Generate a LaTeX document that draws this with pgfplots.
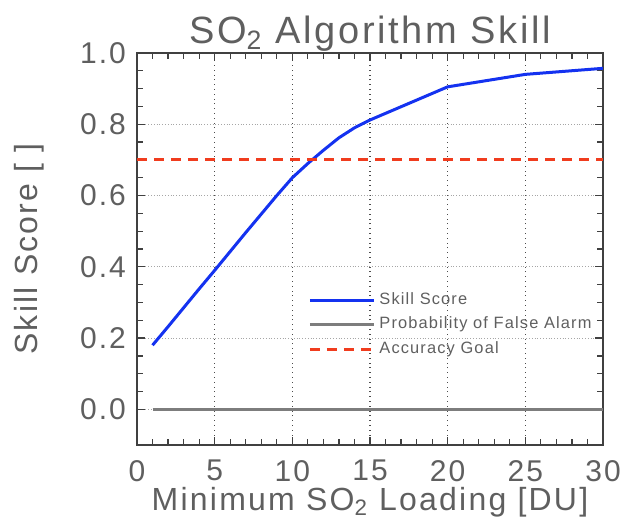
\documentclass[border=0pt]{standalone}
\usepackage{fontspec}
\setmainfont{Liberation Sans}[LetterSpace=7]
\usepackage{pgfplots}
\pgfplotsset{compat=1.18}
\definecolor{skillblue}{RGB}{20,50,240}
\definecolor{goalred}{RGB}{240,60,30}
\definecolor{pfagray}{RGB}{125,125,125}
\definecolor{txtgray}{RGB}{95,95,95}
\begin{document}
\begin{tikzpicture}
\path[use as bounding box] (-68.5pt,-39pt) rectangle (245pt,222.5pt);
\begin{axis}[
  at={(0,0)}, anchor=south west,
  scale only axis, width=233pt, height=196pt,
  xmin=0, xmax=30, ymin=-0.1, ymax=1.0,
  xtick={0,5,10,15,20,25,30},
  ytick={0,0.2,0.4,0.6,0.8,1.0},
  minor x tick num=4, minor y tick num=3,
  tick align=inside,
  major tick length=4pt, minor tick length=3pt,
  every tick/.style={black!75, line width=0.6pt},
  axis line style={black!75, line width=0.6pt},
  xmajorgrids, ymajorgrids,
  x grid style={dotted, black!70, line width=0.6pt},
  y grid style={densely dotted, black!35, line width=0.4pt},
  yticklabel style={/pgf/number format/fixed, /pgf/number format/fixed zerofill, /pgf/number format/precision=1},
  /pgf/number format/assume math mode=true,
  ticklabel style={font=\fontsize{15}{15}\selectfont, text=txtgray},
  xticklabel style={yshift=-4pt},
  yticklabel style={xshift=-2pt},
  title={SO\textsubscript{2} Algorithm Skill},
  title style={font=\fontsize{19}{19}\selectfont, text=txtgray, yshift=-8.5pt},
  xlabel={Minimum SO\textsubscript{2} Loading [DU]},
  ylabel={Skill Score [ ]},
  label style={font=\fontsize{16}{16}\selectfont, text=txtgray},
  xlabel style={yshift=4pt},
  ylabel style={yshift=11pt},
  legend image code/.code={\draw[#1] (0pt,0pt) -- (32pt,0pt);},
  legend style={at={(0.367,0.40)}, anchor=north west, draw=none, fill=none,
    font=\fontsize{8.2}{8.2}\selectfont, text=txtgray, inner sep=0pt,
    row sep=0.8pt, cells={anchor=west}},
  legend cell align=left,
]
\addplot[skillblue, line width=1.5pt] coordinates {
 (1,0.18) (2,0.232) (3,0.285) (4,0.338) (5,0.39) (6,0.443) (7,0.496)
 (8,0.548) (9,0.60) (10,0.65) (11,0.69) (12,0.727) (13,0.762) (14,0.79)
 (15,0.812) (20,0.905) (25,0.94) (30,0.957)};
\addlegendentry{Skill Score}
\addplot[pfagray, line width=1.2pt] coordinates {(1,0) (30,0)};
\addlegendentry{Probability of False Alarm}
\addplot[goalred, line width=1.5pt, dash pattern=on 5pt off 3.5pt] coordinates {(0,0.7) (30,0.7)};
\addlegendentry{Accuracy Goal}
\end{axis}
\end{tikzpicture}
\end{document}
